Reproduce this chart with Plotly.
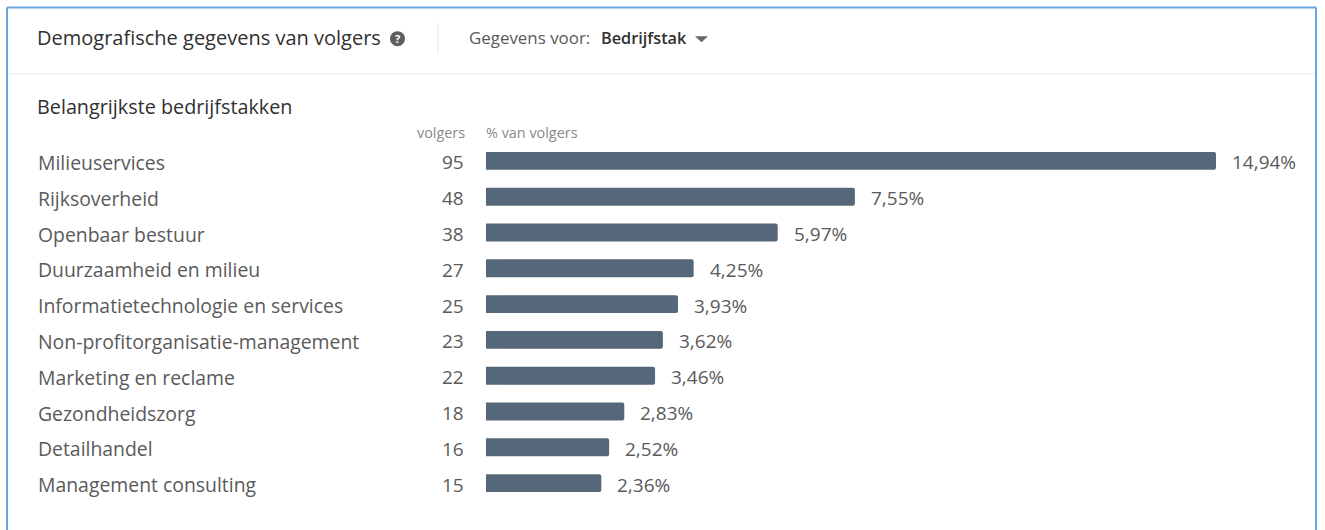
import plotly.graph_objects as go

categories = ["Milieuservices", "Rijksoverheid", "Openbaar bestuur", "Duurzaamheid en milieu",
              "Informatietechnologie en services", "Non-profitorganisatie-management",
              "Marketing en reclame", "Gezondheidszorg", "Detailhandel", "Management consulting"]
followers = [95, 48, 38, 27, 25, 23, 22, 18, 16, 15]
percent = [14.94, 7.55, 5.97, 4.25, 3.93, 3.62, 3.46, 2.83, 2.52, 2.36]
percent_labels = ["14,94%", "7,55%", "5,97%", "4,25%", "3,93%", "3,62%", "3,46%", "2,83%", "2,52%", "2,36%"]

W, H = 1325, 530
L, R, T, B = 486, 0, 143.3, 28.9
FONT = "Open Sans"
GREY = "#5a5a5a"

def px(x):
    return (x - L) / (W - L - R)

def py(y):
    return 1 - (y - T) / (H - T - B)

fig = go.Figure(go.Bar(
    x=percent, y=categories, orientation="h", width=0.5,
    marker=dict(color="#566779", line=dict(width=0)),
    hoverinfo="skip",
))

ann = []

def text(x, y, s, size, color, anchor="left", weight=None):
    ann.append(dict(xref="paper", yref="paper", x=px(x), y=py(y), text=s, showarrow=False,
                    xanchor=anchor, yanchor="middle", borderpad=0, borderwidth=0,
                    font=dict(family=FONT, size=size, color=color, weight=weight), align=anchor))

text(36.5, 37.5, "Demografische gegevens van volgers", 20, "#303030")
text(397.5, 39, "?", 11, "#ffffff", "center", 700)
text(469, 38, "Gegevens voor:", 16.9, GREY)
text(601, 38, "Bedrijfstak", 16.3, "#303030", weight=600)
text(36.5, 106.5, "Belangrijkste bedrijfstakken", 19.8, "#303030")
text(465, 132.5, "volgers", 14.4, "#8a8a8a", "right")
text(486, 132.5, "% van volgers", 14.4, "#8a8a8a")

for c, n, p, lab in zip(categories, followers, percent, percent_labels):
    ann.append(dict(xref="paper", yref="y", x=px(36.5), y=c, text=c, showarrow=False, xanchor="left",
                    yanchor="middle", yshift=-1.5, borderpad=0,
                    font=dict(family=FONT, size=19.4, color=GREY)))
    ann.append(dict(xref="paper", yref="y", x=px(465), y=c, text=str(n), showarrow=False, xanchor="right",
                    yanchor="middle", yshift=-1.5, borderpad=0,
                    font=dict(family=FONT, size=19, color=GREY)))
    ann.append(dict(xref="x", yref="y", x=p, y=c, text=lab, showarrow=False, xanchor="left", xshift=15,
                    yanchor="middle", yshift=-1.5, borderpad=0,
                    font=dict(family=FONT, size=19, color=GREY)))

def hline(x0, x1, y, color, w):
    return dict(type="line", xref="paper", yref="paper", x0=px(x0), x1=px(x1), y0=py(y), y1=py(y),
                line=dict(color=color, width=w), layer="above")

def vline(x, y0, y1, color, w):
    return dict(type="line", xref="paper", yref="paper", x0=px(x), x1=px(x), y0=py(y0), y1=py(y1),
                line=dict(color=color, width=w), layer="above")

shapes = [
    hline(7, 1316, 8, "#6aa5dc", 2),
    vline(7, 8, 530, "#6aa5dc", 2),
    vline(1316, 8, 530, "#6aa5dc", 2),
    hline(8, 1315, 74, "#ececec", 1),
    vline(438, 23, 54, "#e6e6e6", 1),
    dict(type="circle", xref="paper", yref="paper", x0=px(390), x1=px(405), y0=py(46.5), y1=py(31.5),
         fillcolor="#5f5f5f", line=dict(width=0), layer="below"),
    dict(type="path", xref="paper", yref="paper",
         path=f"M {px(695)} {py(36.5)} L {px(708)} {py(36.5)} L {px(701.5)} {py(42.5)} Z",
         fillcolor="#666666", line=dict(width=0), layer="above"),
]

fig.update_layout(
    width=W, height=H, margin=dict(l=L, r=R, t=T, b=B, autoexpand=False),
    paper_bgcolor="#ffffff", plot_bgcolor="#ffffff", showlegend=False, barcornerradius=2,
    xaxis=dict(range=[0, (W - L - R) / 48.86], visible=False),
    yaxis=dict(autorange="reversed", visible=False, categoryorder="array", categoryarray=categories),
    annotations=ann, shapes=shapes,
)
fig.write_html("out.html", config=dict(displayModeBar=False),
               post_script="document.body.style.margin='0';document.body.style.overflow='hidden';")
